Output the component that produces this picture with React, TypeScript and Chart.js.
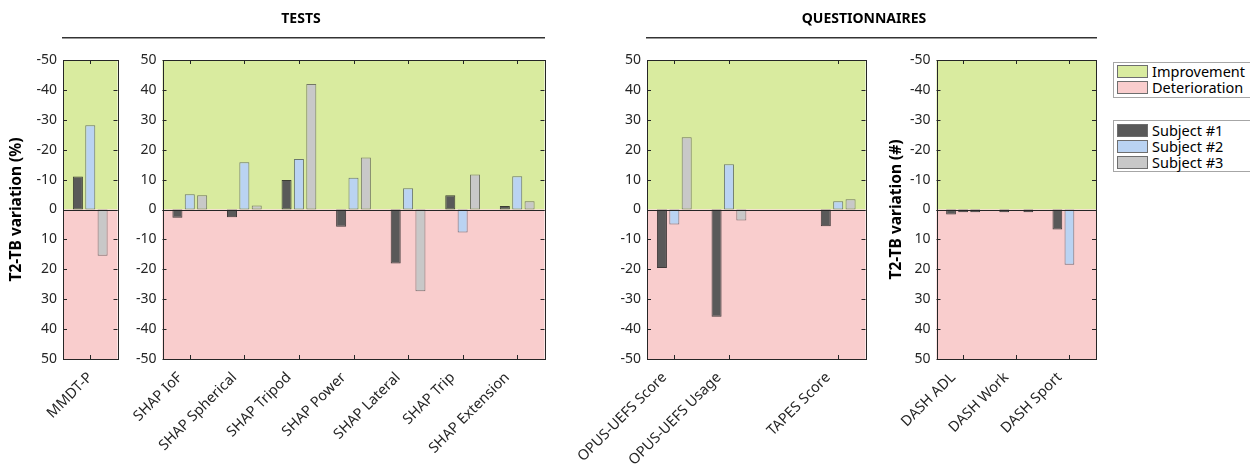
import React, { useEffect, useRef } from 'react';
import { Chart, registerables } from 'chart.js';

Chart.register(...registerables);

// ---------------- DATA ----------------
const mmdtLabels = ['MMDT-P'];
const mmdtS1 = [-11.0];
const mmdtS2 = [-28.2];
const mmdtS3 = [15.5];

const shapLabels = ['SHAP IoF', 'SHAP Spherical', 'SHAP Tripod', 'SHAP Power', 'SHAP Lateral', 'SHAP Trip', 'SHAP Extension'];
const shapS1 = [-2.8, -2.6, 9.9, -5.8, -18.1, 4.8, 1.2];
const shapS2 = [5.1, 15.8, 16.9, 10.6, 7.1, -7.7, 11.1];
const shapS3 = [4.8, 1.3, 42.0, 17.4, -27.3, 11.7, 2.8];

const opusLabels = ['OPUS-UEFS Score', 'OPUS-UEFS Usage', '', 'TAPES Score'];
const opusS1 = [-19.6, -35.9, null, -5.6];
const opusS2 = [-5.0, 15.1, null, 2.8];
const opusS3 = [24.2, -3.7, null, 3.4];

const dashLabels = ['DASH ADL', 'DASH Work', 'DASH Sport'];
const dashS1 = [1.7, 0.9, 6.7];
const dashS2 = [0.9, null, 18.5];
const dashS3 = [0.9, 0.9, null];

const subjectNames = ['Subject #1', 'Subject #2', 'Subject #3'];
const zoneNames = ['Improvement', 'Deterioration'];
const yTickValues = [-50, -40, -30, -20, -10, 0, 10, 20, 30, 40, 50];

// ---------------- STYLE ----------------
const GREEN = '#d9eb9f';
const PINK = '#f9cdcd';
const FILLS = ['#595959', '#bad3f2', '#c8c8c8'];
const EDGES = ['rgba(30,30,30,0.85)', 'rgba(70,80,95,0.75)', 'rgba(80,80,80,0.75)'];
const FLAT = '#3a3a3a';
const AXIS = '#262626';
const FONT = "'Noto Sans', sans-serif";

const decorPlugin = {
  id: 'decor',
  beforeDatasetsDraw(chart: any) {
    const { ctx, chartArea: a, scales } = chart;
    const z = scales.y.getPixelForValue(0);
    ctx.save();
    ctx.fillStyle = GREEN;
    ctx.fillRect(a.left, a.top, a.right - a.left, z - a.top);
    ctx.fillStyle = PINK;
    ctx.fillRect(a.left, z, a.right - a.left, a.bottom - z);
    ctx.restore();
  },
  afterDatasetsDraw(chart: any) {
    const { ctx, chartArea: a, scales } = chart;
    const x = scales.x;
    const y = scales.y;
    const T = 4;
    ctx.save();
    ctx.strokeStyle = AXIS;
    ctx.lineWidth = 1;
    const z = Math.round(y.getPixelForValue(0)) + 0.5;
    ctx.beginPath();
    ctx.moveTo(a.left, z);
    ctx.lineTo(a.right, z);
    yTickValues.forEach((v) => {
      const py = Math.round(y.getPixelForValue(v)) + 0.5;
      ctx.moveTo(a.left, py);
      ctx.lineTo(a.left + T, py);
      ctx.moveTo(a.right, py);
      ctx.lineTo(a.right - T, py);
    });
    const labels = chart.data.labels;
    labels.forEach((lab: string, i: number) => {
      if (!lab) return;
      const px = Math.round(x.getPixelForValue(i)) + 0.5;
      ctx.moveTo(px, a.bottom);
      ctx.lineTo(px, a.bottom - T);
      ctx.moveTo(px, a.top);
      ctx.lineTo(px, a.top + T);
    });
    ctx.stroke();
    ctx.strokeRect(Math.round(a.left) + 0.5, Math.round(a.top) + 0.5, Math.round(a.right) - Math.round(a.left), Math.round(a.bottom) - Math.round(a.top));
    ctx.restore();
  },
};

function makeConfig(
  labels: string[],
  series: (number | null)[][],
  reverse: boolean,
  yWidth: number,
  padRight: number,
  yTitle: string,
  titlePad: number,
  labelOffset: number
): any {
  return {
    type: 'bar',
    data: {
      labels,
      datasets: series.map((d, i) => ({
        label: subjectNames[i],
        data: d,
        backgroundColor: (c: any) => (c.raw != null && Math.abs(c.raw) < 1 ? FLAT : FILLS[i]),
        borderColor: (c: any) => (c.raw != null && Math.abs(c.raw) < 1 ? FLAT : EDGES[i]),
        borderWidth: 1,
        borderSkipped: false,
        categoryPercentage: 0.68,
        barPercentage: 0.81,
      })),
    },
    plugins: [decorPlugin],
    options: {
      responsive: false,
      animation: false,
      layout: { padding: { left: 0, right: padRight, top: 60, bottom: 0 } },
      plugins: { legend: { display: false }, tooltip: { enabled: false } },
      scales: {
        x: {
          type: 'category',
          offset: true,
          grid: { display: false, drawTicks: false },
          border: { display: false },
          ticks: {
            autoSkip: false,
            maxRotation: 45,
            minRotation: 45,
            padding: 10,
            labelOffset,
            color: AXIS,
            font: { family: FONT, size: 14.5 },
          },
          afterFit: (s: any) => {
            s.height = 107;
            s.paddingLeft = 0;
            s.paddingRight = 0;
          },
        },
        y: {
          type: 'linear',
          min: -50,
          max: 50,
          reverse,
          grid: { display: false, drawTicks: false },
          border: { display: false },
          ticks: {
            stepSize: 10,
            padding: 6,
            color: AXIS,
            font: { family: FONT, size: 14 },
          },
          title: {
            display: !!yTitle,
            text: yTitle,
            color: '#000',
            padding: { top: titlePad, bottom: 0 },
            font: { family: FONT, size: 15.5, weight: 'bold' },
          },
          afterFit: (s: any) => {
            s.width = yWidth;
            s.paddingTop = 0;
            s.paddingBottom = 0;
          },
        },
      },
    },
  };
}

function Panel({ left, width, config }: { left: number; width: number; config: () => any }) {
  const ref = useRef<HTMLCanvasElement | null>(null);
  useEffect(() => {
    const c = new Chart(ref.current as HTMLCanvasElement, config());
    return () => c.destroy();
  }, []);
  return <canvas ref={ref} width={width} height={466} style={{ position: 'absolute', left, top: 0, width, height: 466 }} />;
}

const swatch = (color: string): React.CSSProperties => ({
  position: 'absolute',
  left: 3,
  width: 29,
  height: 11,
  background: color,
  border: '1px solid #6e6e6e',
});

export default function App() {
  return (
    <div style={{ position: 'absolute', left: 0, top: 0, width: 1250, height: 466, background: '#fff', overflow: 'hidden', fontFamily: FONT }}>
      <Panel left={0} width={125} config={() => makeConfig(mmdtLabels, [mmdtS1, mmdtS2, mmdtS3], true, 63, 7.5, 'T2-TB variation (%)', 7, 0)} />
      <Panel left={125} width={430} config={() => makeConfig(shapLabels, [shapS1, shapS2, shapS3], false, 37.5, 10.5, '', 0, -10)} />
      <Panel left={555} width={320} config={() => makeConfig(opusLabels, [opusS1, opusS2, opusS3], false, 92, 9.5, '', 0, -10)} />
      <Panel left={875} width={230} config={() => makeConfig(dashLabels, [dashS1, dashS2, dashS3], true, 61.5, 9, 'T2-TB variation (#)', 12.5, -10)} />

      {/* group titles */}
      <div style={{ position: 'absolute', left: 201, width: 200, top: 8, textAlign: 'center', fontWeight: 'bold', fontSize: 14, color: '#000' }}>TESTS</div>
      <div style={{ position: 'absolute', left: 62, width: 483, top: 37, height: 0, borderTop: '1px solid #333', borderBottom: '1px solid #999' }} />
      <div style={{ position: 'absolute', left: 764, width: 200, top: 8, textAlign: 'center', fontWeight: 'bold', fontSize: 14, color: '#000' }}>QUESTIONNAIRES</div>
      <div style={{ position: 'absolute', left: 646, width: 451, top: 37, height: 0, borderTop: '1px solid #333', borderBottom: '1px solid #999' }} />

      {/* legend: zones */}
      <div style={{ position: 'absolute', left: 1113, top: 62, width: 145, height: 34, border: '1px solid #a6a6a6', fontSize: 14.5, color: '#000' }}>
        {zoneNames.map((n, i) => (
          <div key={n} style={{ position: 'absolute', left: 0, top: 2 + i * 16, height: 13, width: 145 }}>
            <div style={swatch(i === 0 ? GREEN : PINK)} />
            <span style={{ position: 'absolute', left: 38, top: -3, lineHeight: '18px', whiteSpace: 'nowrap' }}>{n}</span>
          </div>
        ))}
      </div>
      {/* legend: subjects */}
      <div style={{ position: 'absolute', left: 1113, top: 120, width: 145, height: 50, border: '1px solid #a6a6a6', fontSize: 14.5, color: '#000' }}>
        {subjectNames.map((n, i) => (
          <div key={n} style={{ position: 'absolute', left: 0, top: 3 + i * 16, height: 13, width: 145 }}>
            <div style={swatch(FILLS[i])} />
            <span style={{ position: 'absolute', left: 38, top: -3, lineHeight: '18px', whiteSpace: 'nowrap' }}>{n}</span>
          </div>
        ))}
      </div>
    </div>
  );
}
